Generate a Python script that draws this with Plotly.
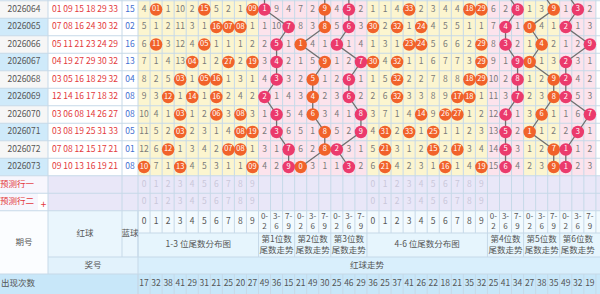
import plotly.graph_objects as go

# ---------------- data ----------------
periods = ["2026064", "2026065", "2026066", "2026067", "2026068",
           "2026069", "2026070", "2026071", "2026072", "2026073"]
red_balls = [
    [1, 9, 15, 18, 29, 33],
    [7, 8, 16, 24, 30, 32],
    [5, 11, 21, 23, 24, 29],
    [4, 19, 27, 29, 30, 32],
    [3, 5, 16, 18, 29, 32],
    [12, 14, 16, 17, 18, 32],
    [3, 6, 8, 14, 26, 27],
    [3, 8, 19, 25, 31, 33],
    [7, 8, 12, 15, 17, 21],
    [9, 10, 13, 16, 19, 21],
]
blue_balls = [15, 2, 16, 13, 4, 8, 8, 5, 1, 8]

# omission values (None = hit, drawn as a ball)
dist13_miss = [
    [4, None, 1, 10, 2, None, 5, 2, 1, None],
    [5, 1, 2, 11, 3, 1, None, None, None, 1],
    [6, None, 3, 12, 4, None, 1, 1, 1, 2],
    [7, 1, 4, 13, None, 1, 2, None, 2, None],
    [8, 2, 5, None, 1, None, None, 1, 3, 1],
    [9, 3, None, 1, None, 1, None, 2, 4, 2],
    [10, 4, 1, None, 1, 2, None, 3, None, 3],
    [11, 5, 2, None, 2, 3, 1, 4, None, None],
    [12, 6, None, 1, 3, 4, 2, None, None, 1],
    [None, 7, 1, None, 4, 5, 3, 1, 1, None],
]
dist46_miss = [
    [1, 1, 4, None, 2, 3, 4, 4, None, None],
    [None, 2, None, 1, None, 4, 5, 5, 1, 1],
    [1, 3, 1, None, None, 5, 6, 6, 2, None],
    [None, 4, None, 1, 1, 6, 7, 7, 3, None],
    [1, 5, None, 2, 2, 7, 8, 8, None, None],
    [2, 6, None, 3, 3, 8, 9, None, None, 1],
    [3, 7, 1, 4, None, 9, None, None, 1, 2],
    [4, None, 2, None, 1, None, 1, 1, 2, 3],
    [5, None, 3, 1, 2, None, 2, None, 3, 4],
    [6, None, 4, 2, 3, 1, None, 1, 4, None],
]
trend1_miss = [[None, 9, 4], [1, 10, None], [2, None, 1], [3, None, 2], [4, None, 3],
               [None, 1, 4], [1, None, 5], [2, None, 6], [3, 1, None], [4, 2, None]]
trend2_miss = [[7, 2, None], [8, 3, None], [None, 4, 1], [1, 5, None], [2, None, 1],
               [3, None, 2], [4, None, 3], [5, 1, None], [6, 2, None], [None, 3, 1]]
trend3_miss = [[4, None, 2], [5, None, 3], [None, 1, 4], [1, 2, None], [2, None, 1],
               [3, None, 2], [4, 1, None], [5, 2, None], [None, 3, 1], [1, None, 2]]
trend4_miss = [[6, 2, None], [7, None, 1], [8, None, 2], [9, 1, None], [10, 2, None],
               [11, 3, None], [12, None, 1], [13, None, 2], [14, None, 3], [15, None, 4]]
trend5_miss = [[1, 3, None], [None, 4, 1], [1, None, 2], [None, 1, 3], [1, 2, None],
               [2, 3, None], [3, None, 1], [None, 1, 2], [1, 2, None], [2, 3, None]]
trend6_miss = [[1, None, 2], [None, 1, 3], [1, 2, None], [None, 3, 1], [None, 4, 2],
               [None, 5, 3], [1, 6, None], [2, None, 1], [None, 1, 2], [None, 2, 3]]
prev_trend_zone = [0, 2, 1, 1, 1, 0]   # zone of the (cropped) previous draw 2026063

counts = [17, 32, 38, 41, 29, 31, 21, 25, 20, 27, 49, 36, 15, 21, 49, 30, 25, 46, 29,
          36, 25, 37, 41, 26, 22, 18, 21, 35, 32, 25, 41, 34, 27, 38, 35, 49, 32, 19]
digit_labels = [str(i) for i in range(10)]
zone_labels = ["0-<br>2", "3-<br>6", "7-<br>9"]
dist_titles = ["1-3 位尾数分布图", "4-6 位尾数分布图"]
trend_titles = ["第1位数<br>尾数走势", "第2位数<br>尾数走势", "第3位数<br>尾数走势",
                "第4位数<br>尾数走势", "第5位数<br>尾数走势", "第6位数<br>尾数走势"]
pred_labels = ["预测行一", "预测行二"]

# ---------------- layout constants ----------------
W, H = 600, 294
X_RED, X_BLUE, X_GRID = 48, 122, 138
CW = 12.05
NCOL = 38
Y0, RH = 0.75, 17.5
NROW = len(periods)
Y_PRED_END = Y0 + (NROW + 2) * RH
HY = [Y_PRED_END, 233, 257, 274, 294]
X_END = X_GRID + NCOL * CW

FONT = "Noto Sans CJK SC"
ORANGE = "#f1622a"
MAGENTA = "#eb3a6c"
YELLOW = "#fcf5cf"
PINK = "#fce3ec"
LAV = "#e9e7f8"
GRID = "#c6d9e8"

# column groups: (start, n, kind, index)
groups = [(0, 10, "dist", 0), (10, 3, "trend", 0), (13, 3, "trend", 1), (16, 3, "trend", 2),
          (19, 10, "dist", 1), (29, 3, "trend", 3), (32, 3, "trend", 4), (35, 3, "trend", 5)]
trend_miss = [trend1_miss, trend2_miss, trend3_miss, trend4_miss, trend5_miss, trend6_miss]
dist_miss = [dist13_miss, dist46_miss]
trend_color = [MAGENTA, ORANGE, MAGENTA, MAGENTA, ORANGE, MAGENTA]
trend_bg = [PINK, PINK, PINK, PINK, YELLOW, PINK]


def cx(i):
    return X_GRID + CW * (i + 0.5)


def ry(r):
    return Y0 + RH * (r + 0.5)


def zone(d):
    return 0 if d <= 2 else (1 if d <= 6 else 2)


shapes = []


def rect(x0, y0, x1, y1, color):
    shapes.append(dict(type="rect", xref="x", yref="y", x0=x0, x1=x1, y0=y0, y1=y1,
                       fillcolor=color, line=dict(width=0), layer="below"))


# ---------------- backgrounds ----------------
for r in range(NROW):
    rect(0, Y0 + r * RH, X_RED, Y0 + (r + 1) * RH, "#f6f6f6" if r % 2 == 0 else "#cfeafa")
rect(X_RED, Y0, X_GRID, Y0 + NROW * RH, "#ffffff")
for (s, n, kind, gi) in groups:
    col = YELLOW if kind == "dist" else trend_bg[gi]
    rect(X_GRID + s * CW, Y0, X_GRID + (s + n) * CW, Y0 + NROW * RH, col)
# prediction rows
rect(0, Y0 + NROW * RH, X_RED, Y_PRED_END, "#f7f6fd")
rect(X_RED, Y0 + NROW * RH, X_END + 10, Y_PRED_END, LAV)
rect(38, Y0 + (NROW + 1) * RH, X_RED, Y_PRED_END, "#ffffff")
# header
rect(0, HY[0], X_RED, HY[3], "#fbfdff")
rect(X_RED, HY[0], X_GRID, HY[2], "#eaf6fd")
rect(X_RED, HY[2], X_GRID, HY[3], "#e2f2fc")
rect(X_GRID, HY[0], X_END + 10, HY[1], "#f2fafe")
rect(X_GRID, HY[1], X_END + 10, HY[2], "#e6f5fd")
rect(X_GRID, HY[2], X_END + 10, HY[3], "#d9effc")
rect(0, HY[3], X_END + 10, HY[4], "#c8e7f9")

fig = go.Figure()

# ---------------- grid lines ----------------
gx, gy = [], []


def seg(x0, y0, x1, y1):
    gx.extend([x0, x1, None])
    gy.extend([y0, y1, None])


for r in range(NROW + 3):
    seg(0, Y0 + r * RH, X_END + 10, Y0 + r * RH)
for xv in [X_RED, X_BLUE]:
    seg(xv, 0, xv, Y_PRED_END)
for i in range(NCOL + 1):
    seg(X_GRID + i * CW, 0, X_GRID + i * CW, Y_PRED_END)
    seg(X_GRID + i * CW, HY[0], X_GRID + i * CW, HY[1])
    seg(X_GRID + i * CW, HY[3], X_GRID + i * CW, HY[4])
for (s, n, kind, gi) in groups:
    seg(X_GRID + s * CW, HY[1], X_GRID + s * CW, HY[2])
seg(X_GRID, HY[1], X_END + 10, HY[1])
seg(X_RED, HY[2], X_END + 10, HY[2])
seg(0, HY[3], X_END + 10, HY[3])
seg(X_RED, HY[0], X_RED, HY[3])
seg(X_BLUE, HY[0], X_BLUE, HY[2])
seg(X_GRID, HY[0], X_GRID, HY[4])
fig.add_trace(go.Scatter(x=gx, y=gy, mode="lines", line=dict(color=GRID, width=1),
                         hoverinfo="skip"))

# ---------------- trend lines ----------------
for (s, n, kind, gi) in groups:
    if kind != "trend":
        continue
    k = gi
    xs = [cx(s + prev_trend_zone[k])]
    ys = [ry(-1)]
    for r in range(NROW):
        xs.append(cx(s + zone(red_balls[r][k] % 10)))
        ys.append(ry(r))
    fig.add_trace(go.Scatter(x=xs, y=ys, mode="lines", line=dict(color="#707070", width=1.3),
                             hoverinfo="skip"))

# ---------------- texts ----------------
def text_trace(xs, ys, ts, color, size, pos="middle center"):
    fig.add_trace(go.Scatter(x=xs, y=ys, text=ts, mode="text", textposition=pos,
                             textfont=dict(family=FONT, size=size, color=color),
                             hoverinfo="skip"))


# period / red / blue
text_trace([24] * NROW, [ry(r) for r in range(NROW)], periods, "#555555", 8.5)
text_trace([85] * NROW, [ry(r) for r in range(NROW)],
           [" ".join(f"{b:02d}" for b in rb) for rb in red_balls], "#e3393c", 8.5)
text_trace([130] * NROW, [ry(r) for r in range(NROW)],
           [f"{b:02d}" for b in blue_balls], "#3f6fd1", 8.5)

# omission numbers + balls
mx, my, mt = [], [], []
balls = {ORANGE: ([], [], []), MAGENTA: ([], [], [])}
for (s, n, kind, gi) in groups:
    for r in range(NROW):
        if kind == "dist":
            row = dist_miss[gi][r]
            placed = set()
            for k in range(gi * 3, gi * 3 + 3):
                t = red_balls[r][k] % 10
                if t not in placed:
                    placed.add(t)
                    b = balls[ORANGE]
                    b[0].append(cx(s + t)); b[1].append(ry(r)); b[2].append(f"{red_balls[r][k]:02d}")
        else:
            row = trend_miss[gi][r]
            d = red_balls[r][gi] % 10
            b = balls[trend_color[gi]]
            b[0].append(cx(s + zone(d))); b[1].append(ry(r)); b[2].append(str(d))
        for j, v in enumerate(row):
            if v is not None:
                mx.append(cx(s + j)); my.append(ry(r)); mt.append(str(v))
text_trace(mx, my, mt, "#7a7a7a", 8.5)

for colr, (bx, by, bt) in balls.items():
    fig.add_trace(go.Scatter(x=bx, y=by, text=bt, mode="markers+text", textposition="middle center",
                             marker=dict(size=12.5, color=colr, line=dict(width=0)),
                             textfont=dict(family=FONT, size=7.5, color="white"),
                             hoverinfo="skip"))

# prediction rows
for p in range(2):
    yv = ry(NROW + p)
    text_trace([0], [yv], [pred_labels[p]], "#e3393c", 8.5, "middle right")
    px, pt = [], []
    for (s, n, kind, gi) in groups:
        if kind == "dist":
            for j in range(10):
                px.append(cx(s + j)); pt.append(digit_labels[j])
    text_trace(px, [yv] * len(px), pt, "#c9c8da", 8.5)
text_trace([43.5], [ry(NROW + 1) + 3], ["+"], "#e3393c", 10)

# header texts
text_trace([24], [(HY[0] + HY[3]) / 2], ["期号"], "#555555", 8.5)
text_trace([(X_RED + X_BLUE) / 2], [(HY[0] + HY[2]) / 2], ["红球"], "#555555", 8.5)
text_trace([(X_BLUE + X_GRID) / 2], [(HY[0] + HY[2]) / 2], ["蓝球"], "#555555", 8.5)
text_trace([(X_RED + X_GRID) / 2], [(HY[2] + HY[3]) / 2], ["奖号"], "#555555", 8.5)
text_trace([(X_GRID + X_END) / 2], [(HY[2] + HY[3]) / 2], ["红球走势"], "#555555", 8.5)
text_trace([1], [(HY[3] + HY[4]) / 2], ["出现次数"], "#555555", 8.5, "middle right")

hx, ht, zx, zt, tx, tt = [], [], [], [], [], []
for (s, n, kind, gi) in groups:
    if kind == "dist":
        for j in range(10):
            hx.append(cx(s + j)); ht.append(digit_labels[j])
        text_trace([X_GRID + (s + n / 2) * CW], [(HY[1] + HY[2]) / 2], [dist_titles[gi]], "#555555", 8.5)
    else:
        for j in range(3):
            zx.append(cx(s + j)); zt.append(zone_labels[j])
        tx.append(X_GRID + (s + n / 2) * CW); tt.append(trend_titles[gi])
text_trace(hx, [(HY[0] + HY[1]) / 2] * len(hx), ht, "#555555", 8.5)
text_trace(zx, [(HY[0] + HY[1]) / 2] * len(zx), zt, "#555555", 8)
text_trace(tx, [(HY[1] + HY[2]) / 2] * len(tx), tt, "#555555", 8.5)
text_trace([cx(i) for i in range(NCOL)], [(HY[3] + HY[4]) / 2] * NCOL,
           [str(c) for c in counts], "#555555", 8.5)

fig.update_layout(
    width=W, height=H, margin=dict(l=0, r=0, t=0, b=0),
    paper_bgcolor="white", plot_bgcolor="white", showlegend=False,
    xaxis=dict(range=[0, W], visible=False, fixedrange=True),
    yaxis=dict(range=[H, 0], visible=False, fixedrange=True),
    shapes=shapes,
)
fig.write_html("out.html")
